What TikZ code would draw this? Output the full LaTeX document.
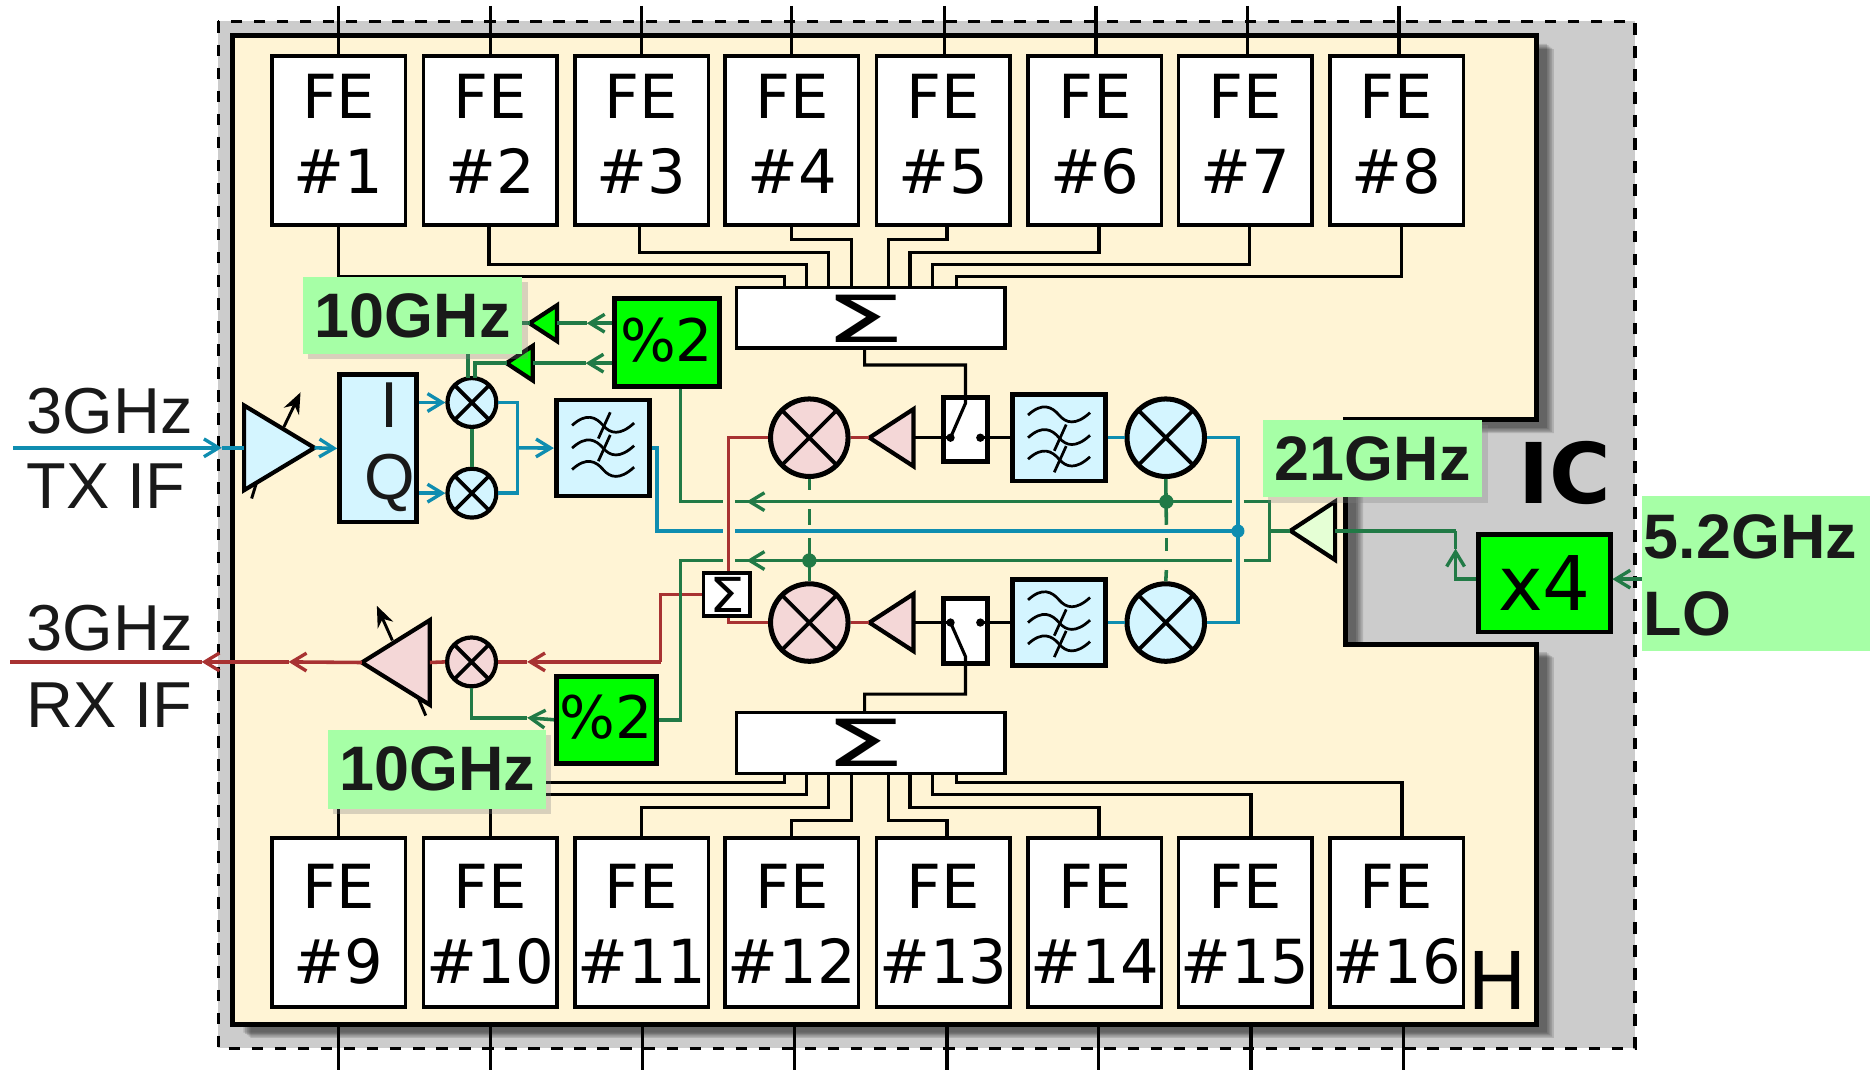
\documentclass[tikz,border=0pt]{standalone}
\usepackage{fontspec}
\setmainfont{Liberation Sans}
\newfontfamily\dvfont{DejaVu Sans}
\usetikzlibrary{arrows.meta,calc,positioning,shapes.geometric,shadows}
\definecolor{icGray}{HTML}{CCCCCC}
\definecolor{boardCream}{HTML}{FFF4D5}
\definecolor{txBlue}{HTML}{0F8DB0}
\definecolor{txFill}{HTML}{D4F5FF}
\definecolor{rxRed}{HTML}{A83232}
\definecolor{rxFill}{HTML}{F4D7D7}
\definecolor{loGreen}{HTML}{217A46}
\definecolor{loBright}{HTML}{00FF00}
\definecolor{loPale}{HTML}{E5FFD5}
\definecolor{labelGreen}{HTML}{A6FFA6}
\tikzset{
  febox/.style={draw,fill=white,line width=1.7pt,minimum width=2.24cm,minimum height=2.84cm,
    inner sep=0pt,align=center,font=\dvfont\fontsize{29}{35.8}\selectfont},
  sumbox/.style={draw,fill=white,line width=1.7pt,minimum width=4.5cm,minimum height=1.02cm,
    inner sep=0pt},
  sumsign/.style={inner sep=0pt,font=\dvfont\fontsize{31}{31}\selectfont},
  sumsmall/.style={draw,fill=white,line width=1.7pt,minimum width=.78cm,minimum height=.72cm,
    inner sep=0pt,font=\dvfont\fontsize{23}{23}\selectfont},
  filterbox/.style={draw,fill=txFill,line width=2.3pt,minimum width=1.55cm,minimum height=1.45cm},
  switchbox/.style={draw,fill=white,line width=2.3pt,minimum width=.73cm,minimum height=1.08cm},
  divbox/.style={draw,fill=loBright,line width=2.3pt,inner sep=0pt,font=\dvfont\fontsize{28}{28}\selectfont},
  mixbig/.style={circle,draw,line width=2.4pt,minimum size=1.3cm,inner sep=0pt,
    path picture={\draw[line width=1.8pt] (path picture bounding box.north west) -- (path picture bounding box.south east)
      (path picture bounding box.north east) -- (path picture bounding box.south west);}},
  mixsmall/.style={mixbig,line width=2pt,minimum size=.82cm},
  amp/.style={isosceles triangle,isosceles triangle stretches,draw,line width=2pt,inner sep=0pt,outer sep=0pt,anchor=apex},
  glabel/.style={fill=labelGreen,text=black!90,inner sep=0pt,font=\bfseries\fontsize{30}{30}\selectfont},
  glabelshadow/.style={glabel,drop shadow={shadow xshift=2.5pt,shadow yshift=-2.5pt,opacity=.3}},
  iftext/.style={inner sep=0pt,text=black!90,font=\fontsize{31}{31}\selectfont},
  wireT/.style={txBlue,line width=1.7pt},
  wireR/.style={rxRed,line width=1.7pt},
  wireL/.style={loGreen,line width=1.7pt},
  wireB/.style={black,line width=1.5pt},
  wave/.style={black,line width=1.3pt},
  barb/.style={-{Straight Barb[length=7pt,width=8.5pt,line width=1.6pt]}},
}
\begin{document}
\begin{tikzpicture}[x=0.02cm,y=-0.02cm,line join=miter]
  \useasboundingbox (0,0) rectangle (1568,897);
  % package and board
  \draw[fill=icGray,line width=1.6pt,dash pattern=on 5.5pt off 5.5pt] (183,18) rectangle (1371,879);
  \foreach \d in {9,10.5,12,13.5,15}
    {\fill[black,opacity=.13,xshift=\d*0.02cm,yshift=-\d*0.015cm]
      (195,30) -- (1288,30) -- (1288,352) -- (1128,352) -- (1128,540) -- (1288,540) -- (1288,859) -- (195,859) -- cycle;}
  \foreach \x in {284,411,539,666,794,921,1049,1177}
    {\draw[wireB] (\x,859) -- (\x,897);}
  \draw[fill=boardCream,line width=2.4pt]
    (195,30) -- (1288,30) -- (1288,352) -- (1128,352) -- (1128,540) -- (1288,540) -- (1288,859) -- (195,859) -- cycle;
  \node[inner sep=0pt,font=\dvfont\fontsize{38}{38}\selectfont] (boardname) at (1255.5,822) {H};
  \node[inner sep=0pt,font=\dvfont\bfseries\fontsize{40}{40}\selectfont] (icname) at (1312,397) {IC};

  % front ends
  \foreach \i/\x in {1/284,2/411,3/538,4/664,5/791,6/918,7/1044,8/1171}
    {\node[febox] (fe\i) at (\x,117.7) {FE\\\#\i\rule[-6.2pt]{0pt}{0pt}};}
  \foreach \i/\x in {9/284,10/411,11/538,12/664,13/791,14/918,15/1044,16/1171}
    {\node[febox] (fe\i) at (\x,773.5) {\rule{0pt}{22.8pt}FE\\\#\i};}
  \foreach \i/\x in {1/284,2/411,3/538,4/664,5/792,6/919,7/1046,8/1173}
    {\coordinate (pin\i) at (\x,5);
     \draw[wireB] (pin\i) -- (pin\i |- fe\i.north);}
  \node[sumbox] (sumup) at (730,266.5) {};
  \node[sumsign] (sumupsign) at (725,267) {\scalebox{2}[1]{Σ}};
  \node[sumbox] (sumdn) at (730,623) {};
  \node[sumsign] (sumdnsign) at (725,622.5) {\scalebox{2}[1]{Σ}};
  \foreach \i/\sx/\lev/\pos in {1/284/232/658,2/410/222/676,3/536/212/695,4/664/201/714,5/794/201/745,6/921.5/212/763,7/1048/222/782,8/1175/232/802}
    {\draw[wireB] (\sx,0 |- fe\i.south) |- (\pos,\lev) -- (\pos,0 |- sumup.north);}
  \foreach \i/\sx/\lev/\pos in {9/284/656/658,10/411/666/676,11/538/677/695,12/664/688/714,13/794/688/745,14/921.5/677/763,15/1049/666/782,16/1175.6/656/802}
    {\draw[wireB] (\sx,0 |- fe\i.north) |- (\pos,\lev) -- (\pos,0 |- sumdn.south);}

  % up and down paths
  \foreach \n/\y/\sy in {up/367/360,dn/522/529}
    {\node[mixbig,fill=rxFill] (mixR\n) at (678.6,\y) {};
     \node[mixbig,fill=txFill] (mixT\n) at (977.5,\y) {};
     \node[amp,fill=rxFill,shape border rotate=180,minimum height=.74cm,minimum width=.96cm] (ampR\n) at (729,\y) {};
     \node[filterbox] (filt\n) at (888,\y) {};
     \node[switchbox] (sw\n) at (809.5,\sy) {};
     \fill (797,\y) circle (3.5) coordinate (swa\n);
     \fill (822,\y) circle (3.5) coordinate (swb\n);
     \draw[wireB] (ampR\n.east) -- (swa\n);
     \draw[wireB] (swb\n) -- (filt\n.west);
     \draw[wireT] (filt\n.east) -- (mixT\n.west);
     \draw[wireR] (ampR\n.apex) -- (mixR\n.east);}
  \draw[wireB] (725,0 |- sumup.south) |- (809.6,306) -- (809.6,338) -- (swaup);
  \draw[wireB] (725,0 |- sumdn.north) |- (809.6,582) -- (809.6,550.6) -- (swadn);
  \foreach \n in {up,dn}
    {\begin{scope}[shift={(filt\n.center)}]
       \foreach \y in {-19,0,18}
         {\draw[wave] (-26,\y) .. controls (-14,\y-11) and (-6,\y-7) .. (0,\y) .. controls (6,\y+7) and (14,\y+9) .. (26,\y-2);}
       \foreach \y in {0,18}
         {\draw[wave] (-4,\y+11) -- (6,\y-11);}
     \end{scope}}

  % tx side
  \node[amp,fill=txFill,minimum height=1.18cm,minimum width=1.42cm] (amptx) at (263.7,375.5) {};
  \node[draw,fill=txFill,line width=2.3pt,minimum width=1.29cm,minimum height=2.47cm] (iqbox) at (317,376) {};
  \node[iftext] (iqi) at (327,340) {I};
  \node[iftext] (iqq) at (327,405) {Q};
  \node[mixsmall,fill=txFill] (mixI) at (395.7,337.5) {};
  \node[mixsmall,fill=txFill] (mixQ) at (395.7,413.5) {};
  \node[filterbox,minimum width=1.57cm,minimum height=1.61cm] (filttx) at (505.7,375.7) {};
  \begin{scope}[shift={(filttx.center)}]
    \foreach \y in {-19,0,18}
      {\draw[wave] (-26,\y) .. controls (-14,\y-11) and (-6,\y-7) .. (0,\y) .. controls (6,\y+7) and (14,\y+9) .. (26,\y-2);}
    \foreach \y in {-19,0}
      {\draw[wave] (-4,\y+11) -- (6,\y-11);}
  \end{scope}
  \coordinate (txin) at (11,375.5);
  \coordinate (txjoin) at (434,375.5);
  \draw[wireT,barb] (txin) -- (186,375.5);
  \draw[wireT] (186,375.5) -- (amptx.west);
  \draw[wireT,barb] (amptx.apex) -- (iqbox.west);
  \draw[wireT,barb] (mixI.west -| iqbox.east) -- (mixI.west);
  \draw[wireT,barb] (mixQ.west -| iqbox.east) -- (mixQ.west);
  \draw[wireT] (mixI.east) -| (txjoin) |- (mixQ.east);
  \draw[wireT,barb] (txjoin) -- (filttx.west);
  \coordinate (amptxg) at (252,329);
  \draw[line width=1.4pt,-{Stealth[length=10pt,width=8pt]}] (238,358) -- (amptxg);
  \draw[line width=1.4pt] (215,405) -- (211,418);
  \draw[wireL] (mixI.south) -- (mixQ.north);

  % rx side
  \node[amp,fill=rxFill,shape border rotate=180,minimum height=1.14cm,minimum width=1.42cm] (amprx) at (303.4,555.5) {};
  \node[mixsmall,fill=rxFill] (mixrx) at (395.4,555) {};
  \node[sumsmall] (sumrx) at (609.5,498.5) {\scalebox{1.17}[1]{Σ}};
  \coordinate (rxout) at (8,555);
  \coordinate (rxbend) at (554,555);
  \draw[wireR] (mixRup.west) -| (611,0 |- sumrx.north);
  \draw[wireR] (mixRdn.west) -| (611,0 |- sumrx.south);
  \draw[wireR] (sumrx.west) -| (rxbend);
  \draw[wireR,barb] (rxbend) -- (442,555);
  \draw[wireR] (442,555) -- (mixrx.east);
  \draw[wireR] (mixrx.west) -- (amprx.east);
  \draw[wireR,barb] (amprx.apex) -- (242,555);
  \draw[wireR,barb] (242,555) -- (169,555);
  \draw[wireR] (169,555) -- (rxout);
  \coordinate (amprxg) at (316,508);
  \draw[line width=1.4pt,-{Stealth[length=10pt,width=8pt]}] (329,537) -- (amprxg);
  \draw[line width=1.4pt] (351,586) -- (357,600);

  % lo distribution
  \node[divbox,minimum width=1.76cm,minimum height=1.48cm] (divup) at (559,287) {\raisebox{2.5pt}{\%2}};
  \node[divbox,minimum width=1.68cm,minimum height=1.46cm] (divdn) at (508.5,603.5) {\raisebox{2.5pt}{\%2}};
  \node[divbox,line width=2.3pt,minimum width=2.22cm,minimum height=1.64cm,font=\dvfont\fontsize{36}{36}\selectfont] (mult) at (1295,489) {x4};
  \node[amp,fill=loPale,shape border rotate=180,minimum height=.75cm,minimum width=.98cm] (ampLO) at (1082,445) {};
  \node[amp,fill=loBright,shape border rotate=180,minimum height=.46cm,minimum width=.6cm] (amptop) at (444,271) {};
  \node[amp,fill=loBright,shape border rotate=180,minimum height=.44cm,minimum width=.58cm] (ampbot) at (424.7,304.5) {};
  \coordinate (lojoin) at (1064.6,445);
  \coordinate (lobend) at (1220.5,445);
  \coordinate (busupL) at (570.5,420.6);
  \coordinate (busdnL) at (570.5,470);
  \draw[wireL] (ampLO.east) -- (lobend);
  \draw[wireL,barb] (mult.west |- 0,485.6) -| (1220.5,460);
  \draw[wireL] (1220.5,460) -- (lobend);
  \draw[wireL] (ampLO.apex) -- (lojoin);
  \draw[wireL] (1043,420.6) -| (lojoin) |- (1043,470);
  \draw[wireL] (1033,420.6) -- (616,420.6);
  \draw[wireL] (606,420.6) -- (busupL) -- (busupL |- divup.south);
  \draw[wireL] (1033,470) -- (616,470);
  \draw[wireL] (606,470) -- (busdnL) |- (divdn.east);
  \draw[wireL,barb] (700,420.6) -- (626,420.6);
  \draw[wireL,barb] (700,470) -- (626,470);
  \coordinate (loin) at (1377,485.6);
  \draw[wireL,barb] (loin) -- (1352,485.6);
  % crossings of the mixer feeds
  \draw[wireL] (mixRup.south) -- (678.6,411);
  \draw[wireL] (678.6,427) -- (678.6,440);
  \draw[wireL] (678.6,451) -- (mixRdn.north);
  \fill[loGreen] (678.6,470) circle (6);
  \draw[wireL] (mixTup.south) -- (978,440);
  \fill[loGreen] (978,420.6) circle (6);
  \draw[wireL] (978,451) -- (978,462);
  \draw[wireL] (978,478) -- (mixTdn.north);

  % tx bus
  \coordinate (busT) at (1038,445.3);
  \draw[wireT] (mixTup.east) -| (busT) |- (mixTdn.east);
  \draw[wireT] (busT) -- (616,445.3);
  \draw[wireT] (606,445.3) -| (551,375.7) -- (filttx.east);
  \fill[txBlue] (busT) circle (5.5);

  % local oscillator to the up and down converters
  \draw[wireL,barb] (divup.west |- 0,271) -- (492,271);
  \draw[wireL] (492,271) -- (amptop.east);
  \draw[wireL] (amptop.apex) -- (438,271);
  \draw[wireL,barb] (divup.west |- 0,304.5) -- (491,304.5);
  \draw[wireL] (491,304.5) -- (ampbot.east);
  \draw[wireL] (ampbot.apex) -| (398.5,317);
  \draw[wireL] (392.6,290) -- (392.6,317);
  \draw[wireL,barb] (divdn.west) -- (442,601.8);
  \draw[wireL] (442,601.8) -| (mixrx.south);

  % labels
  \node[glabelshadow,minimum width=3.68cm,minimum height=1.3cm] (lblup) at (346,264.5) {\raisebox{-1.2pt}{10GHz}};
  \node[glabelshadow,minimum width=3.66cm,minimum height=1.32cm] (lbldn) at (366.5,645) {\raisebox{-1.2pt}{10GHz}};
  \node[glabelshadow,minimum width=3.68cm,minimum height=1.3cm] (lblhi) at (1151,384.5) {\raisebox{-1.2pt}{21GHz}};
  \fill[labelGreen] (1377,416) rectangle (1568,545.6);
  \node[glabel,fill=none,anchor=west] (lblfa) at (1378,450.5) {5.2GHz};
  \node[glabel,fill=none,anchor=west] (lblfb) at (1378,514.5) {LO};
  \node[iftext] (lbltxa) at (92,345) {3GHz};
  \node[iftext] (lbltxb) at (89,408) {TX IF};
  \node[iftext] (lblrxa) at (92,527) {3GHz};
  \node[iftext] (lblrxb) at (92,591) {RX IF};
\end{tikzpicture}
\end{document}
